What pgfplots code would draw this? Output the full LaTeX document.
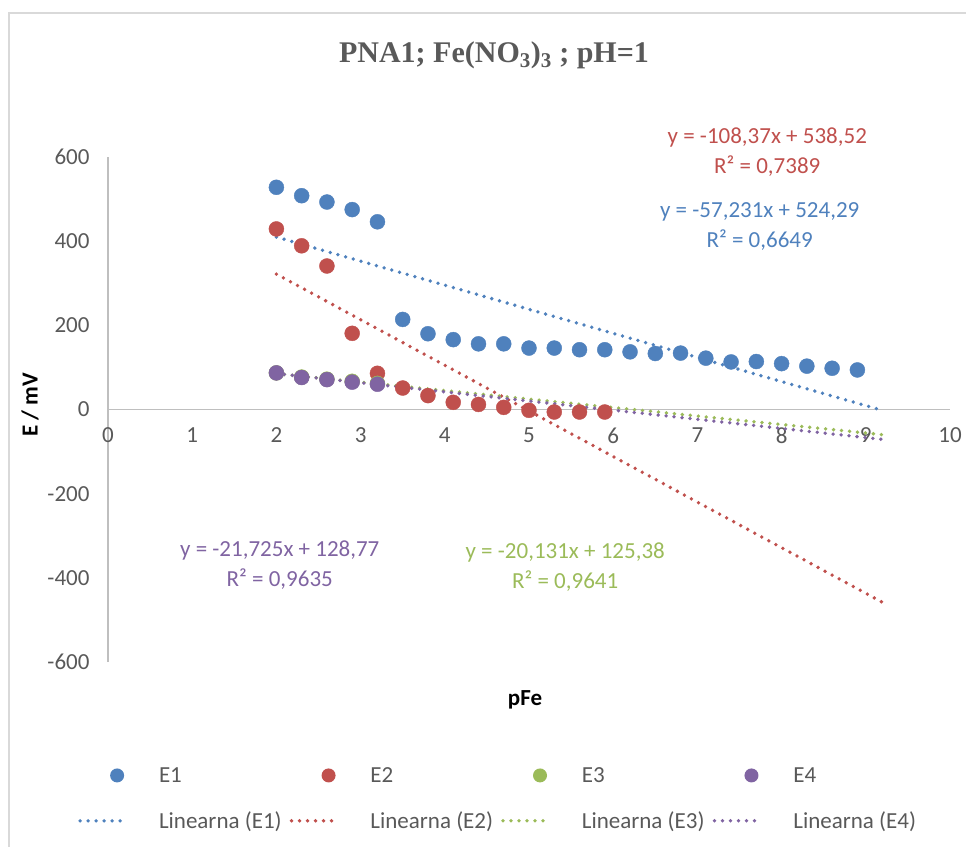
\documentclass[border=0pt]{standalone}
\usepackage{fontspec}
\setmainfont{Carlito}
\newfontfamily\titlefont{Liberation Serif}
\usepackage{pgfplots}
\pgfplotsset{compat=1.18}
\definecolor{cEa}{HTML}{4F81BD}
\definecolor{cEb}{HTML}{C0504D}
\definecolor{cEc}{HTML}{9BBB59}
\definecolor{cEd}{HTML}{8064A2}
\definecolor{txt}{HTML}{595959}
\definecolor{axl}{HTML}{BFBFBF}
\definecolor{frm}{HTML}{D9D9D9}
\newcommand\ff{\fontsize{23bp}{30bp}\selectfont}
\pgfplotsset{
  pts/.style={only marks, mark=*, color=#1, mark size=7.5bp,
    mark options={draw=#1, fill=#1},
    legend image code/.code={\path[draw=none,fill=none] (0bp,0bp) -- (44bp,0bp);
      \fill[draw=none] (37bp,0bp) circle (7bp);}},
  trend/.style={color=#1, line width=3.8bp, line cap=round, dash pattern=on 0bp off 8bp,
    legend image code/.code={\draw (0bp,0bp) -- (44bp,0bp);}},
}
\begin{document}
\begin{tikzpicture}
\path[use as bounding box] (0,0) rectangle (966bp,847bp);
\draw[frm, line width=1.5bp] (9bp,-20bp) rectangle (990bp,834bp);
\node[font=\titlefont\bfseries\fontsize{30bp}{36bp}\selectfont, text=txt] at (494bp,792bp)
  {PNA1; Fe(NO\textsubscript{3})\textsubscript{3} ; pH=1};
\node[font=\ff\bfseries, rotate=90] at (30bp,442bp) {E / mV};
\node[font=\ff\bfseries] at (525bp,147bp) {pFe};
\begin{axis}[
  at={(108bp,185bp)}, anchor=south west,
  scale only axis, width=842bp, height=505bp,
  xmin=0, xmax=10, ymin=-600, ymax=600,
  axis x line=middle, axis y line=left,
  axis line style={axl, line width=1.5bp, -},
  hide obscured x ticks=false,
  xtick={0,1,2,3,4,5,6,7,8,9,10},
  xticklabels={0,1,2,3,4,5,6,7,8,9,10},
  ytick={-600,-400,-200,0,200,400,600},
  yticklabels={-600,-400,-200,0,200,400,600},
  major tick length=0pt,
  /pgf/number format/assume math mode=true,
  tick label style={font=\ff, text=txt},
  xticklabel style={yshift=-15bp},
  yticklabel style={xshift=-15bp},
  clip=false,
  legend columns=4,
  legend cell align=left,
  legend style={at={(-0.0356,-0.208)}, anchor=north west, draw=none, fill=none,
    inner sep=0pt, font=\ff, text=txt, row sep=28bp,
    nodes={inner sep=0pt},
    /tikz/every odd column/.append style={column sep=33bp},
    /tikz/every even column/.append style={column sep=8bp}},
]
\addplot[pts=cEa] coordinates {
  (2.0,528) (2.3,508) (2.6,493) (2.9,475) (3.2,446) (3.5,214) (3.8,180) (4.1,166)
  (4.4,156) (4.7,156) (5.0,146) (5.3,146) (5.6,142) (5.9,142) (6.2,137) (6.5,133)
  (6.8,134) (7.1,122) (7.4,113) (7.7,114) (8.0,109) (8.3,103) (8.6,98) (8.9,94)};
\addlegendentry{E1}
\addplot[pts=cEb] coordinates {
  (2.0,429) (2.3,389) (2.6,341) (2.9,181) (3.2,86) (3.5,51) (3.8,33) (4.1,17)
  (4.4,12) (4.7,5) (5.0,-2) (5.3,-6) (5.6,-6) (5.9,-6)};
\addlegendentry{E2}
\addplot[pts=cEc] coordinates {
  (2.0,87) (2.3,77) (2.6,72) (2.9,67) (3.2,62)};
\addlegendentry{E3}
\addplot[pts=cEd] coordinates {
  (2.0,87) (2.3,76) (2.6,71) (2.9,65) (3.2,60)};
\addlegendentry{E4}
\addplot[trend=cEa] coordinates {(2.0,409.83) (9.2,-2.24)};
\addlegendentry{Linearna (E1)}
\addplot[trend=cEb] coordinates {(2.0,321.78) (9.2,-458.48)};
\addlegendentry{Linearna (E2)}
\addplot[trend=cEc] coordinates {(2.0,85.12) (9.2,-59.83)};
\addlegendentry{Linearna (E3)}
\addplot[trend=cEd] coordinates {(2.0,85.32) (9.2,-71.10)};
\addlegendentry{Linearna (E4)}
\node[font=\ff, text=cEb, align=center] at (axis cs:7.83,612) {y = -108,37x + 538,52\\R² = 0,7389};
\node[font=\ff, text=cEa, align=center] at (axis cs:7.74,436) {y = -57,231x + 524,29\\R² = 0,6649};
\node[font=\ff, text=cEd, align=center] at (axis cs:2.04,-370) {y = -21,725x + 128,77\\R² = 0,9635};
\node[font=\ff, text=cEc, align=center] at (axis cs:5.43,-375) {y = -20,131x + 125,38\\R² = 0,9641};
\end{axis}
\end{tikzpicture}
\end{document}
